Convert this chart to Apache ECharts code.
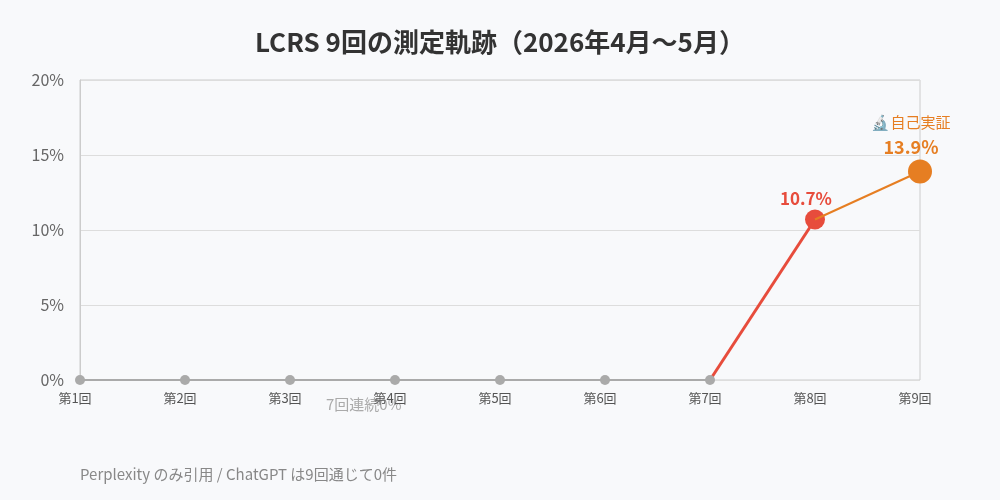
<!DOCTYPE html>
<html>
<head>
<meta charset="utf-8">
<script src="https://cdn.jsdelivr.net/npm/echarts@6/dist/echarts.min.js"></script>
<style>
  html, body { margin: 0; padding: 0; background: #f8f9fb; }
  #chart { width: 1000px; height: 500px; }
</style>
</head>
<body>
<div id="chart"></div>
<script>
const rounds = ["第1回", "第2回", "第3回", "第4回", "第5回", "第6回", "第7回", "第8回", "第9回"];
const zeroRun = [0, 0, 0, 0, 0, 0, 0, null, null];
const jumpSeg = [null, null, null, null, null, null, 0, 10.7, null];
const latestSeg = [null, null, null, null, null, null, null, 10.7, 13.9];
const yTicks = [0, 5, 10, 15, 20];

const font = "'Noto Sans CJK JP', 'Noto Sans', sans-serif";

const chart = echarts.init(document.getElementById("chart"));
chart.setOption({
  backgroundColor: "#f8f9fb",
  textStyle: { fontFamily: font },
  title: {
    text: "LCRS 9回の測定軌跡（2026年4月〜5月）",
    left: "center",
    top: 24,
    textStyle: { fontSize: 26, fontWeight: "bold", color: "#333", fontFamily: font },
  },
  grid: { left: 80, right: 80, top: 80, bottom: 120, show: true, borderColor: "#ccc", borderWidth: 1 },
  xAxis: {
    type: "category",
    data: rounds,
    boundaryGap: false,
    axisLine: { show: false },
    axisTick: { show: false },
    axisLabel: { fontSize: 13, color: "#555", margin: 12, padding: [0, 10, 0, 0] },
  },
  yAxis: {
    type: "value",
    min: yTicks[0],
    max: yTicks[yTicks.length - 1],
    interval: 5,
    axisLine: { show: true, lineStyle: { color: "#ccc" } },
    axisLabel: { fontSize: 16, color: "#666", formatter: "{value}%", margin: 16 },
    splitLine: { lineStyle: { color: "#ddd" } },
  },
  graphic: [
    {
      type: "text",
      left: 326,
      top: 397,
      style: { text: "7回連続0%", fontSize: 15, fill: "#aaa", fontFamily: font },
    },
    {
      type: "text",
      left: 80,
      top: 467,
      style: { text: "Perplexity のみ引用 / ChatGPT は9回通じて0件", fontSize: 15, fill: "#888", fontFamily: font },
    },
  ],
  series: [
    {
      type: "line",
      data: zeroRun,
      symbol: "circle",
      symbolSize: 10,
      itemStyle: { color: "#aaa" },
      lineStyle: { color: "#aaa", width: 2 },
      z: 3,
    },
    {
      type: "line",
      data: jumpSeg,
      symbol: "circle",
      showSymbol: true,
      symbolSize: (v, p) => (p.dataIndex === 7 ? 20 : 0),
      itemStyle: { color: "#e74c3c" },
      lineStyle: { color: "#e74c3c", width: 3 },
      label: {
        show: true,
        position: "top",
        distance: 2,
        offset: [-9, 0],
        fontSize: 17,
        fontWeight: "bold",
        color: "#e74c3c",
        formatter: (p) => (p.dataIndex === 7 ? p.value + "%" : ""),
      },
      z: 2,
    },
    {
      type: "line",
      data: latestSeg,
      symbol: "circle",
      symbolSize: (v, p) => (p.dataIndex === 8 ? 24 : 0),
      itemStyle: { color: "#e67e22" },
      lineStyle: { color: "#e67e22", width: 2 },
      label: {
        show: true,
        position: "top",
        distance: 0,
        offset: [-9, 0],
        formatter: (p) => (p.dataIndex === 8 ? "{a|🔬自己実証}\n{b|" + p.value + "%}" : ""),
        rich: {
          a: { fontSize: 15, color: "#e67e22", lineHeight: 26, fontFamily: font },
          b: { fontSize: 18, fontWeight: "bold", color: "#e67e22", lineHeight: 24, fontFamily: font },
        },
      },
      z: 4,
    },
  ],
});
</script>
</body>
</html>
